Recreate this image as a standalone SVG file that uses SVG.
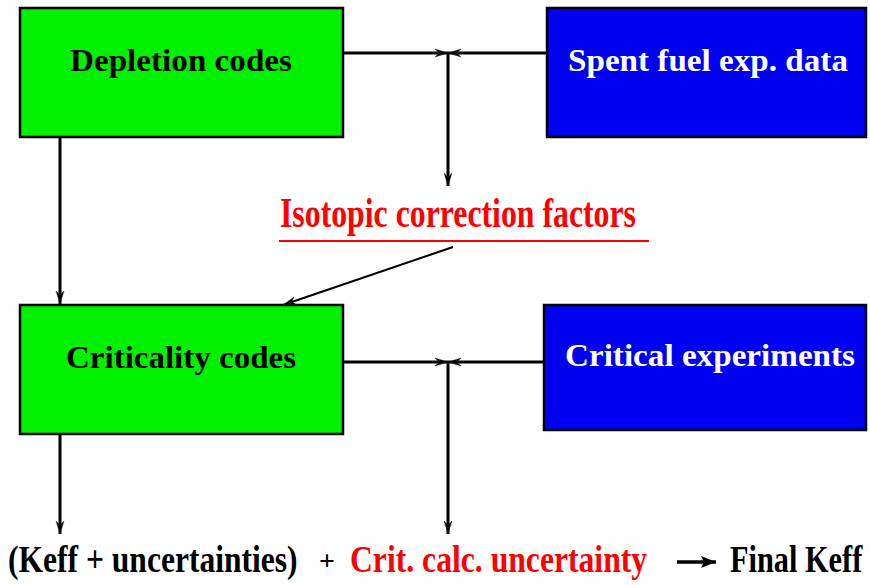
<svg xmlns="http://www.w3.org/2000/svg" width="870" height="585" viewBox="0 0 870 585">
<style>
.box{stroke:#000;stroke-width:2.5}
.g{fill:#00f000}
.b{fill:#0000f0}
.t{font-family:"Liberation Serif","Times New Roman",serif;font-weight:bold}
.ln{stroke:#000;stroke-width:3;fill:none}
</style>
<defs>
<marker id="ah" markerWidth="14" markerHeight="10" refX="13" refY="5" orient="auto" markerUnits="userSpaceOnUse">
<path d="M0,1 L13,5 L0,9 L4,5 Z" fill="#000" stroke="#333" stroke-width="0.5"/>
</marker>
<marker id="ah2" markerWidth="16" markerHeight="12" refX="15" refY="6" orient="auto" markerUnits="userSpaceOnUse">
<path d="M0,0 L15,6 L0,12 L3,6 Z" fill="#000"/>
</marker>
</defs>
<rect width="870" height="585" fill="#fff"/>
<g id="depletion">
<rect class="box g" x="20" y="8" width="323" height="129"/>
<text class="t" x="181" y="71" font-size="31" text-anchor="middle" textLength="222" lengthAdjust="spacingAndGlyphs">Depletion codes</text>
</g>
<g id="spent">
<rect class="box b" x="547" y="8" width="319" height="129"/>
<text class="t" x="708" y="71" font-size="31" fill="#fff" text-anchor="middle" textLength="280" lengthAdjust="spacingAndGlyphs">Spent fuel exp. data</text>
</g>
<g id="isotopic">
<text class="t" x="458" y="227" font-size="42" fill="#f00" text-anchor="middle" textLength="356" lengthAdjust="spacingAndGlyphs">Isotopic correction factors</text>
<line x1="279" y1="241" x2="649" y2="241" stroke="#f00" stroke-width="2"/>
</g>
<g id="criticality">
<rect class="box g" x="20" y="305" width="323" height="129"/>
<text class="t" x="181" y="368" font-size="31" text-anchor="middle" textLength="230" lengthAdjust="spacingAndGlyphs">Criticality codes</text>
</g>
<g id="experiments">
<rect class="box b" x="544" y="305" width="322" height="125"/>
<text class="t" x="710" y="366" font-size="31" fill="#fff" text-anchor="middle" textLength="290" lengthAdjust="spacingAndGlyphs">Critical experiments</text>
</g>
<g id="result">
<text class="t" transform="translate(8,572) scale(0.853,1)" font-size="37">(Keff + uncertainties)</text>
<text class="t" x="327" y="570" font-size="28" font-weight="normal" text-anchor="middle">+</text>
<text class="t" transform="translate(350,572) scale(0.856,1)" font-size="37" fill="#f00">Crit. calc. uncertainty</text>
<text class="t" transform="translate(730,572) scale(0.82,1)" font-size="37">Final Keff</text>
</g>
<g id="connectors">
<line class="ln" x1="343" y1="53" x2="448" y2="53" marker-end="url(#ah)"/>
<line class="ln" x1="547" y1="53" x2="448" y2="53" marker-end="url(#ah)"/>
<line class="ln" x1="448" y1="53" x2="448" y2="186" marker-end="url(#ah)"/>
<line class="ln" x1="60" y1="137" x2="60" y2="304" marker-end="url(#ah)"/>
<line stroke="#000" stroke-width="2" x1="453" y1="247" x2="283" y2="305" marker-end="url(#ah)"/>
<line class="ln" x1="343" y1="362" x2="448" y2="362" marker-end="url(#ah)"/>
<line class="ln" x1="544" y1="362" x2="448" y2="362" marker-end="url(#ah)"/>
<line class="ln" x1="448" y1="362" x2="448" y2="534" marker-end="url(#ah)"/>
<line class="ln" x1="60" y1="434" x2="60" y2="534" marker-end="url(#ah)"/>
<line stroke="#000" stroke-width="3.5" x1="677" y1="562" x2="716" y2="562" marker-end="url(#ah2)"/>
</g>
</svg>
